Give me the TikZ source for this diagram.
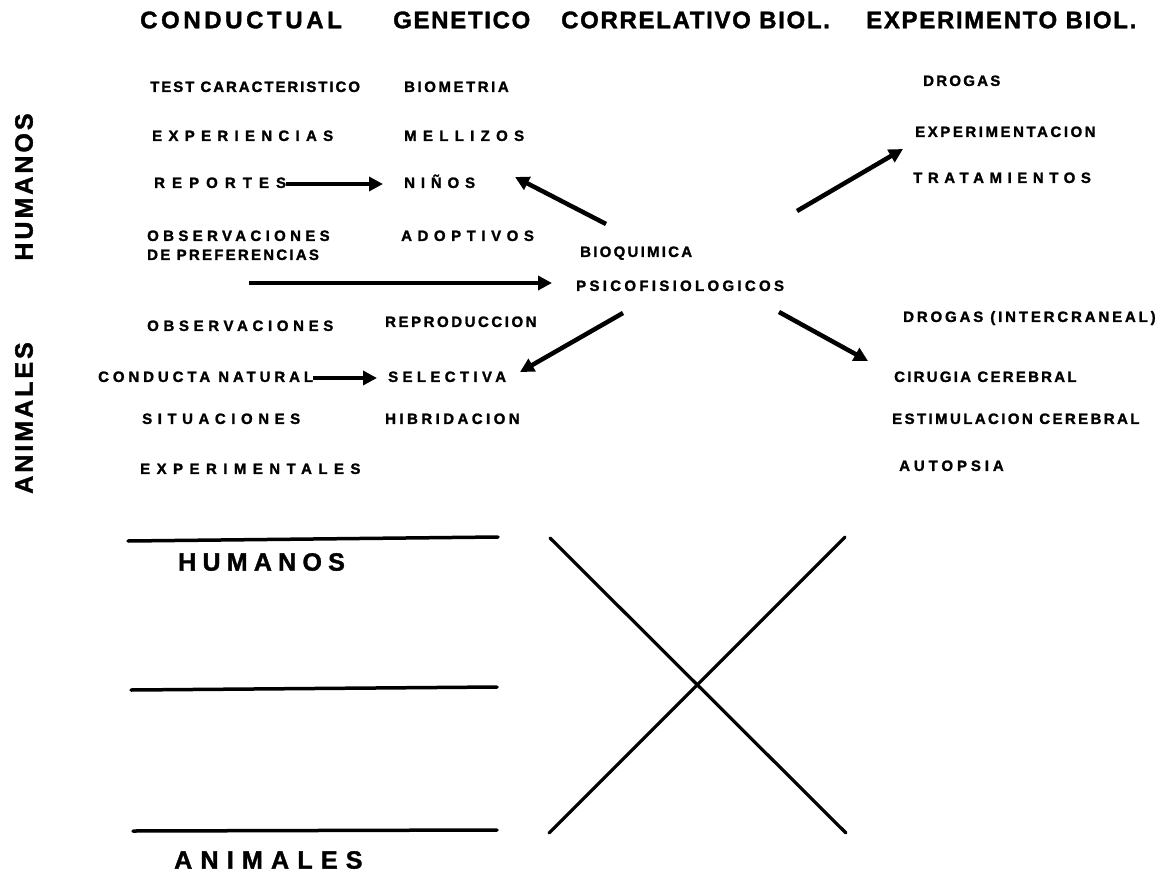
\documentclass[tikz,border=0pt]{standalone}
\usepackage{fontspec}
\setmainfont{Liberation Sans}
\usetikzlibrary{arrows.meta}
\tikzset{
  titulo/.style={anchor=west,inner sep=0pt,
      font=\fontsize{24}{24}\selectfont\bfseries\addfontfeature{LetterSpace=#1,FakeBold=1.5}},
  titulo/.default=7,
  rotulo/.style={anchor=west,inner sep=0pt,text height=1.5ex,text depth=0pt,
      font=\fontsize{15}{15}\selectfont\bfseries\addfontfeature{LetterSpace=#1,FakeBold=1.5}},
  rotulo/.default=15,
  grupo/.style={inner sep=0pt,font=\fontsize{25}{25}\selectfont\bfseries\addfontfeature{LetterSpace=#1,FakeBold=1.5}},
  flecha/.style={line width=4.5pt,-{Triangle[length=14pt,width=14pt]}},
  raya/.style={line width=3.5pt,line cap=round}
}
\begin{document}
\begin{tikzpicture}[x=1pt,y=-1pt]
  \useasboundingbox (0,0) rectangle (1174,877);
  % encabezados
  \node[titulo=15] (cond) at (140,20) {CONDUCTUAL};
  \node[titulo] (gen) at (393,20) {GENETICO};
  \node[titulo] (corr) at (561,20) {CORRELATIVO BIOL.};
  \node[titulo] (expb) at (866,20) {EXPERIMENTO BIOL.};
  % grupos al costado
  \node[grupo=12,rotate=90] (humv) at (24,187) {HUMANOS};
  \node[grupo=12,rotate=90] (aniv) at (24,418) {ANIMALES};
  % humanos
  \node[rotulo=13] (test) at (150,88) {TEST CARACTERISTICO};
  \node[rotulo=17] (biom) at (404,88) {BIOMETRIA};
  \node[rotulo=42] (exper) at (152,137) {EXPERIENCIAS};
  \node[rotulo=42] (mell) at (404,137) {MELLIZOS};
  \node[rotulo=47] (rep) at (154,184) {REPORTES};
  \node[rotulo=39] (ninos) at (404,184) {NIÑOS};
  \node[rotulo=29] (obsh) at (147,237) {OBSERVACIONES};
  \node[rotulo=15] (pref) at (147,256) {DE PREFERENCIAS};
  \node[rotulo=37] (adop) at (401,237) {ADOPTIVOS};
  \node[rotulo=15] (bioq) at (580,253) {BIOQUIMICA};
  \node[rotulo=22] (psico) at (576,287) {PSICOFISIOLOGICOS};
  \node[rotulo=15] (drog) at (923,82) {DROGAS};
  \node[rotulo=17] (expt) at (915,133) {EXPERIMENTACION};
  \node[rotulo=37] (trat) at (913,179) {TRATAMIENTOS};
  % animales
  \node[rotulo=31] (obsa) at (147,327) {OBSERVACIONES};
  \node[rotulo=17] (repr) at (385,323) {REPRODUCCION};
  \node[rotulo=26] (conducta) at (98,378) {CONDUCTA NATURAL};
  \node[rotulo=29] (sel) at (388,378) {SELECTIVA};
  \node[rotulo=37] (sit) at (142,420) {SITUACIONES};
  \node[rotulo=23] (hib) at (385,420) {HIBRIDACION};
  \node[rotulo=43] (expm) at (140,470) {EXPERIMENTALES};
  \node[rotulo=19] (drogi) at (903,318) {DROGAS (INTERCRANEAL)};
  \node[rotulo=15] (ciru) at (894,378) {CIRUGIA CEREBRAL};
  \node[rotulo=16] (estim) at (892,420) {ESTIMULACION CEREBRAL};
  \node[rotulo=26] (autop) at (899,467) {AUTOPSIA};
  % flechas
  \coordinate (inicio) at (249,283);
  \draw[flecha,shorten >=21pt] (rep.east) -- (ninos.west);
  \draw[flecha,shorten >=11pt] (conducta.east) -- (sel.west);
  \draw[flecha,shorten >=24pt] (inicio) -- (inicio -| psico.west);
  \draw[flecha] ([shift={(26,-29)}]bioq.west) -- ([shift={(111,-7)}]ninos.west);
  \draw[flecha] ([shift={(217,-42)}]bioq.west) -- ([shift={(-12,16)}]expt.west);
  \draw[flecha] ([shift={(47,26)}]psico.west) -- ([shift={(132,-6)}]sel.west);
  \draw[flecha] ([shift={(203,25)}]psico.west) -- ([shift={(-26,-17)}]ciru.west);
  % esquema de abajo
  \draw[raya] (128,541) -- (498,537);
  \node[grupo=25,anchor=west] (hum) at (178,562) {HUMANOS};
  \draw[raya] (131,690) -- (497,687);
  \draw[raya] (133,831) -- (497,830);
  \node[grupo=33,anchor=west] (ani) at (174,860) {ANIMALES};
  \draw[line width=3.2pt,line cap=round] (550,538) -- (846,833);
  \draw[line width=3.2pt,line cap=round] (845,537) -- (549,833);
\end{tikzpicture}
\end{document}
